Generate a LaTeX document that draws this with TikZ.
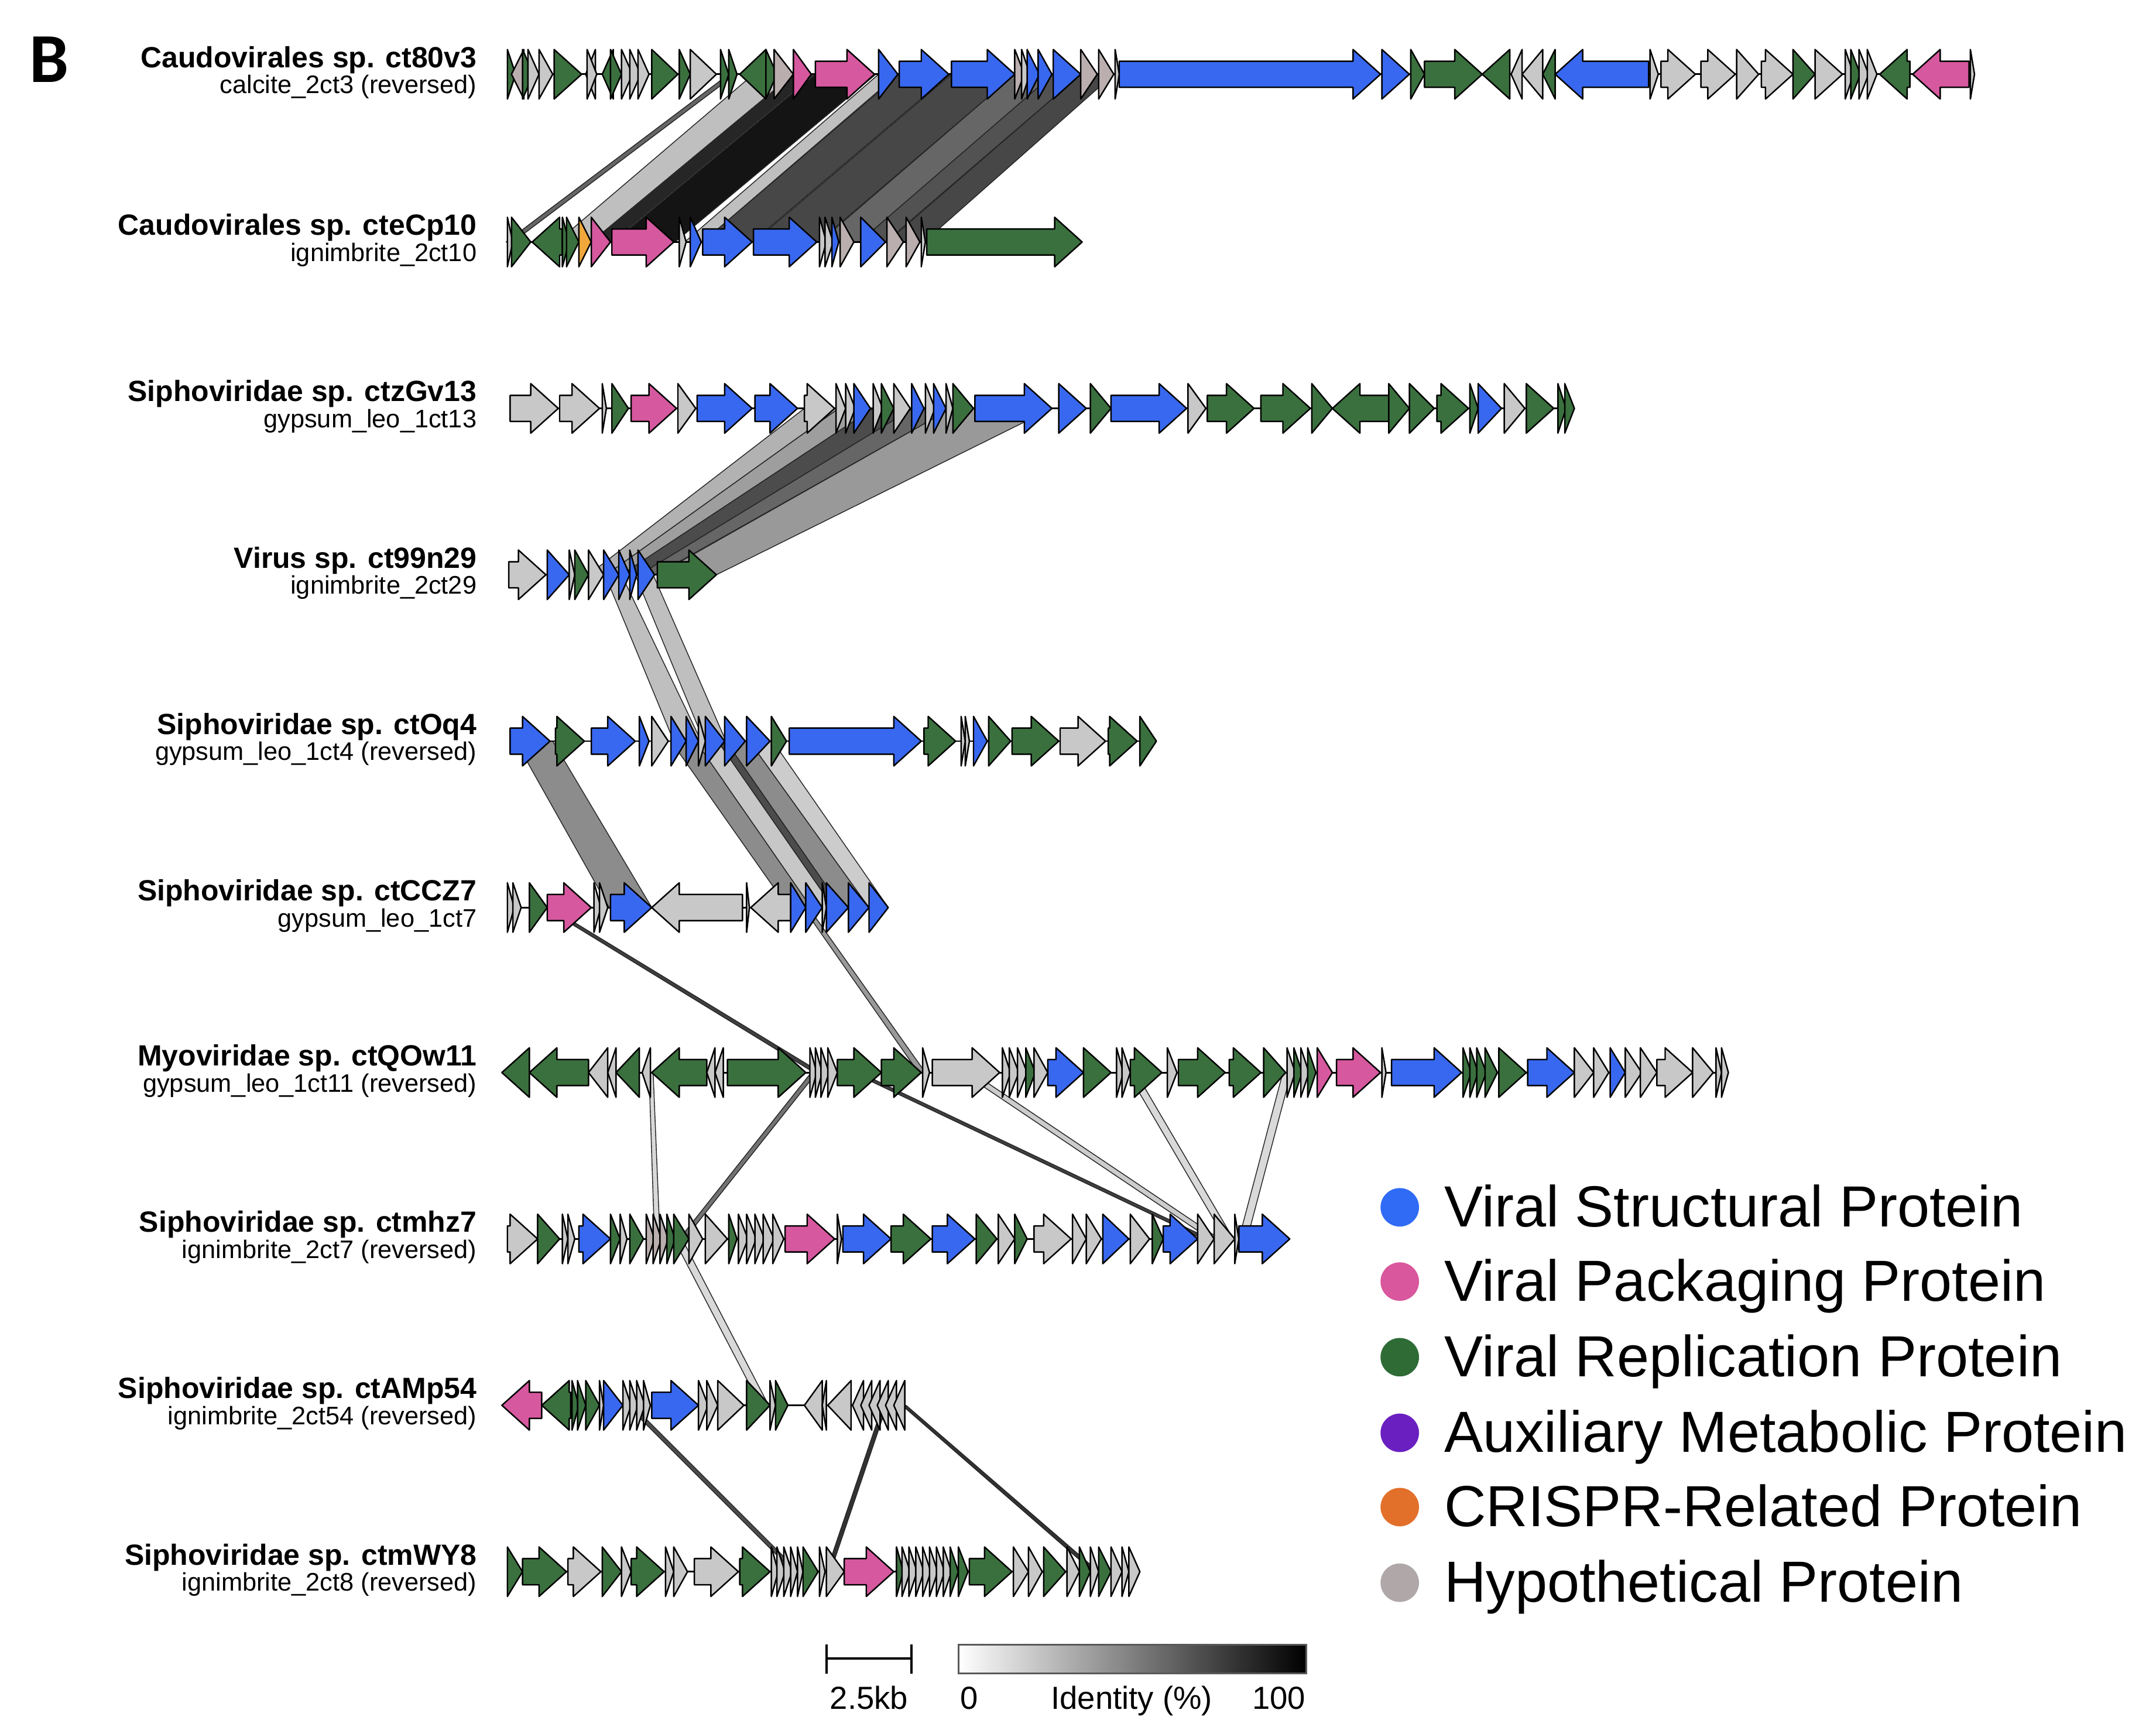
\documentclass[tikz,border=0pt]{standalone}
\usepackage{fontspec}
\setmainfont{Liberation Sans}
\newfontfamily\panelfont{Carlito}
\definecolor{bl}{RGB}{56,104,240}
\definecolor{pk}{RGB}{214,88,158}
\definecolor{gr}{RGB}{58,112,62}
\definecolor{hg}{RGB}{200,200,200}
\definecolor{hp}{RGB}{186,174,174}
\definecolor{og}{RGB}{240,168,60}
\definecolor{lbl}{RGB}{47,107,245}
\definecolor{lpk}{RGB}{217,87,156}
\definecolor{lgr}{RGB}{46,107,53}
\definecolor{lpu}{RGB}{106,31,192}
\definecolor{lor}{RGB}{226,112,43}
\definecolor{lhy}{RGB}{176,168,168}
\tikzset{
  gene/.style={draw=black, line width=0.6pt, line join=round},
  ribbon/.style={draw=black!85, line width=0.35pt, line join=round},
  baseln/.style={draw=black, line width=0.7pt},
  nm/.style={anchor=base east, inner sep=0pt, font=\fontsize{12.1}{14}\selectfont\bfseries},
  sb/.style={anchor=base east, inner sep=0pt, font=\fontsize{10.5}{12}\selectfont},
  legtext/.style={anchor=base west, inner sep=0pt, font=\fontsize{24}{28}\selectfont},
  legdot/.style={circle, inner sep=0pt, minimum size=0.56cm},
  scaletext/.style={anchor=base, inner sep=0pt, font=\fontsize{13.2}{15}\selectfont}
}
\newcommand{\gn}[4]{%
  \pgfmathsetmacro{\gnL}{(#2)-(#1)}%
  \pgfmathsetmacro{\gnH}{ifthenelse(abs(\gnL)<20,\gnL,20*sign(\gnL))}%
  \pgfmathsetmacro{\gnM}{(#2)-\gnH}%
  \filldraw[gene,fill=#4] (#1,#3-9.5) -- (\gnM,#3-9.5) -- (\gnM,#3-18) -- (#2,#3) -- (\gnM,#3+18) -- (\gnM,#3+9.5) -- (#1,#3+9.5) -- cycle;}
\newcommand{\track}[2]{\foreach \ga/\gb/\gc in {#2}{\gn{\ga}{\gb}{#1}{\gc}}}
\newcommand{\rb}[7]{\filldraw[ribbon,fill=#7] (#1,#3) -- (#2,#3) -- (#5,#6) -- (#4,#6) -- cycle;}
\begin{document}
\begin{tikzpicture}[x=0.02cm,y=-0.02cm]
\useasboundingbox (0,0) rectangle (1568,1261);
% ---------------- ribbons ----------------
% 1 -> 2
\rb{530}{535}{54}{368}{373}{176}{black!60}
\rb{548}{577}{54}{405}{430}{176}{black!25}
\rb{577}{592}{54}{430}{445}{176}{black!85}
\rb{593}{637}{54}{446}{491}{176}{black!92}
\rb{639}{653}{54}{498}{511}{176}{black!25}
\rb{654}{691}{54}{511}{547}{176}{black!72}
\rb{692}{738}{54}{548}{595}{176}{black!72}
\rb{738}{766}{54}{596}{625}{176}{black!60}
\rb{766}{786}{54}{625}{644}{176}{black!68}
\rb{786}{810}{54}{645}{672}{176}{black!72}
% 3 -> 4
\rb{585}{610}{297}{428}{441}{418}{black!30}
\rb{610}{635}{297}{441}{452}{418}{black!38}
\rb{635}{664}{297}{452}{465}{418}{black!70}
\rb{664}{692}{297}{465}{477}{418}{black!60}
\rb{692}{765}{297}{478}{521}{418}{black!40}
% 4 -> 5
\rb{440}{452}{418}{490}{510}{539}{black!25}
\rb{462}{475}{418}{512}{528}{539}{black!25}
% 5 -> 6
\rb{375}{402}{539}{443}{474}{660}{black!45}
\rb{488}{506}{539}{573}{590}{660}{black!45}
\rb{506}{522}{539}{590}{606}{660}{black!22}
\rb{522}{528}{539}{606}{612}{660}{black!70}
\rb{528}{545}{539}{612}{632}{660}{black!45}
\rb{545}{562}{539}{632}{646}{660}{black!20}
% 6 -> 7
\rb{396}{400}{660}{592}{597}{780}{black!75}
\rb{584}{588}{660}{668}{673}{780}{black!40}
% 7 -> 8
\rb{472}{475}{780}{476}{480}{901}{black!15}
\rb{590}{594}{780}{494}{498}{901}{black!55}
\rb{620}{625}{780}{875}{880}{901}{black!75}
\rb{700}{707}{780}{880}{887}{901}{black!20}
\rb{820}{826}{780}{891}{897}{901}{black!15}
\rb{933}{939}{780}{901}{907}{901}{black!15}
% 8 -> 9
\rb{490}{496}{901}{553}{559}{1022}{black!15}
% 9 -> 10
\rb{456}{460}{1022}{577}{581}{1143}{black!70}
\rb{642}{645}{1022}{601}{604}{1143}{black!80}
\rb{656}{659}{1022}{795}{799}{1143}{black!80}
% ---------------- baselines ----------------
\foreach \xa/\xb/\yy in {369/1436/54, 369/787/176, 371/1145/297, 370/521/418, 371/841/539, 369/646/660, 365/1257/780, 369/938/901, 365/658/1022, 369/829/1143}
  {\draw[baseln] (\xa,\yy) -- (\xb,\yy);}
% ---------------- genes ----------------
\track{54}{369/375/gr, 381/372/hp, 380/388/gr, 384/392/hg, 392/402/hg, 403/423/gr, 433/426/hg, 427/434/hg, 446/438/gr, 444/452/gr, 452/460/hg, 458/466/hg, 464/472/hg, 474/493/gr, 494/502/gr, 502/521/hg, 524/530/gr, 530/536/gr, 557/538/gr, 557/565/gr, 563/577/hp, 577/590/pk, 593/636/pk, 639/653/bl, 654/690/bl, 692/738/bl, 738/745/hp, 743/749/hg, 747/756/bl, 755/765/bl, 766/786/bl, 786/798/hp, 799/810/hp, 811/814/hg, 814/1004/bl, 1005/1025/bl, 1026/1036/gr, 1036/1078/gr, 1098/1078/gr, 1107/1099/hg, 1122/1107/hg, 1131/1122/gr, 1199/1131/bl, 1200/1206/hg, 1208/1233/hg, 1237/1262/hg, 1263/1279/hg, 1281/1304/hg, 1304/1320/gr, 1320/1340/hg, 1342/1348/hg, 1346/1353/gr, 1352/1359/hg, 1358/1365/hg, 1389/1367/gr, 1432/1391/pk, 1433/1436/hg}
\track{176}{369/373/hg, 372/386/gr, 409/387/gr, 409/414/gr, 412/421/gr, 421/430/og, 430/444/pk, 445/490/pk, 494/499/hg, 502/510/bl, 511/547/bl, 548/594/bl, 596/601/hg, 600/606/hg, 605/610/bl, 611/621/hp, 626/644/bl, 645/657/hp, 659/669/hp, 670/673/hg, 674/787/gr}
\track{297}{371/406/hg, 407/436/hg, 438/441/hg, 445/457/gr, 459/492/pk, 493/506/hg, 507/547/bl, 549/580/bl, 585/607/hg, 608/615/hg, 615/622/hg, 621/633/bl, 635/642/hg, 641/650/gr, 650/662/hg, 663/672/bl, 673/680/hg, 679/688/bl, 688/693/hg, 693/708/gr, 709/765/bl, 770/790/bl, 793/808/gr, 808/863/bl, 864/877/hg, 878/912/gr, 917/953/gr, 954/969/gr, 1010/969/gr, 1010/1025/gr, 1025/1043/gr, 1045/1068/gr, 1069/1075/gr, 1075/1092/bl, 1094/1109/hg, 1110/1130/gr, 1133/1139/gr, 1138/1145/gr}
\track{418}{370/397/hg, 398/414/bl, 414/418/hg, 418/428/gr, 428/439/hg, 439/450/bl, 450/458/bl, 458/463/bl, 464/476/bl, 478/521/gr}
\track{539}{371/400/bl, 404/425/gr, 430/462/bl, 465/472/bl, 474/486/hg, 488/499/bl, 499/508/bl, 508/513/hg, 513/527/bl, 527/542/bl, 543/560/bl, 561/572/gr, 574/670/bl, 672/695/gr, 699/702/hg, 702/705/hg, 708/718/bl, 719/735/gr, 736/770/gr, 771/804/hg, 806/827/gr, 829/841/gr}
\track{660}{369/374/hg, 373/379/hg, 385/398/gr, 398/430/pk, 432/437/hg, 436/442/hg, 444/474/bl, 540/474/hg, 543/545/hg, 575/546/hg, 575/586/bl, 586/598/bl, 598/601/hg, 601/617/bl, 617/632/bl, 632/646/bl}
\track{780}{385/365/gr, 428/385/gr, 442/428/hg, 448/442/hg, 465/448/gr, 473/467/hg, 514/474/gr, 520/514/hg, 526/520/hg, 529/586/gr, 589/594/hg, 593/598/hg, 597/603/hg, 602/609/hg, 609/641/gr, 641/670/gr, 671/676/hg, 678/727/hg, 729/735/hg, 734/741/hg, 740/747/hg, 746/753/gr, 752/762/hg, 762/788/bl, 788/808/gr, 812/817/hg, 816/822/hg, 822/845/gr, 849/856/hg, 857/891/gr, 894/917/gr, 919/935/gr, 936/942/hg, 941/947/gr, 946/952/hg, 951/957/gr, 958/969/pk, 972/1004/pk, 1005/1008/hg, 1012/1063/bl, 1064/1070/gr, 1069/1075/gr, 1074/1081/gr, 1080/1089/gr, 1090/1110/gr, 1111/1145/bl, 1145/1159/hg, 1159/1170/hg, 1171/1182/bl, 1182/1194/hg, 1193/1205/hg, 1205/1231/hg, 1231/1246/hg, 1248/1252/hg, 1252/1257/hg}
\track{901}{369/391/hg, 391/407/gr, 409/413/hg, 413/418/hg, 421/444/bl, 444/451/gr, 451/456/hg, 458/468/gr, 470/476/hp, 475/481/hp, 480/486/hp, 485/491/gr, 490/501/gr, 501/511/hg, 513/529/hg, 530/536/gr, 537/544/hg, 543/550/hg, 549/556/hg, 555/563/hg, 562/570/hg, 571/607/pk, 609/612/hg, 613/648/bl, 648/677/gr, 678/709/bl, 710/725/gr, 726/738/hg, 738/747/gr, 752/779/hg, 780/790/hg, 790/801/hg, 802/821/bl, 822/836/hg, 838/846/gr, 846/871/bl, 871/883/hg, 883/898/hg, 898/901/hg, 901/938/bl}
\track{1022}{394/365/pk, 415/394/gr, 416/421/gr, 420/426/gr, 426/436/gr, 436/439/hg, 439/453/bl, 453/459/hg, 458/464/hg, 463/469/hg, 468/473/hg, 474/508/bl, 508/515/hg, 514/522/hg, 522/541/hg, 543/560/gr, 560/564/hg, 564/573/gr, 598/585/hg, 601/598/hg, 619/602/hg, 628/620/hg, 634/626/hg, 640/632/hg, 646/638/hg, 652/644/hg, 658/650/hg}
\track{1143}{369/380/gr, 380/412/gr, 413/437/hg, 438/452/gr, 452/459/hg, 459/483/gr, 484/490/hg, 490/500/hg, 505/537/hg, 538/560/gr, 561/566/hg, 565/571/hg, 570/576/hg, 575/580/hg, 580/584/hg, 584/595/gr, 596/600/hg, 601/614/hg, 614/650/pk, 652/657/gr, 656/662/hg, 661/667/hg, 666/672/hg, 671/677/hg, 676/682/hg, 681/687/hg, 686/692/hg, 691/697/gr, 697/704/gr, 705/736/gr, 737/748/hg, 748/758/hg, 759/775/gr, 776/785/hg, 785/793/gr, 793/799/hg, 799/808/gr, 808/816/hg, 816/821/hg, 821/829/hg}
% ---------------- labels ----------------
\foreach \i/\yy/\nmt/\sbt in {
 1/54/{Caudovirales sp. ct80v3}/{calcite\_2ct3 (reversed)},
 2/176/{Caudovirales sp. cteCp10}/{ignimbrite\_2ct10},
 3/297/{Siphoviridae sp. ctzGv13}/{gypsum\_leo\_1ct13},
 4/418/{Virus sp. ct99n29}/{ignimbrite\_2ct29},
 5/539/{Siphoviridae sp. ctOq4}/{gypsum\_leo\_1ct4 (reversed)},
 6/660/{Siphoviridae sp. ctCCZ7}/{gypsum\_leo\_1ct7},
 7/780/{Myoviridae sp. ctQOw11}/{gypsum\_leo\_1ct11 (reversed)},
 8/901/{Siphoviridae sp. ctmhz7}/{ignimbrite\_2ct7 (reversed)},
 9/1022/{Siphoviridae sp. ctAMp54}/{ignimbrite\_2ct54 (reversed)},
 10/1143/{Siphoviridae sp. ctmWY8}/{ignimbrite\_2ct8 (reversed)}}
{
 \node[nm] (name\i) at (347,\yy-5) {\nmt};
 \node[sb] (sub\i) at (347,\yy+14) {\sbt};
}
\node[anchor=base west, inner sep=0pt, font=\panelfont\bfseries\fontsize{29}{33}\selectfont] (panel) at (21,60) {B};
% ---------------- legend ----------------
\foreach \i/\yy/\cl/\tx in {1/878/lbl/Viral Structural Protein, 2/932/lpk/Viral Packaging Protein, 3/987/lgr/Viral Replication Protein, 4/1042/lpu/Auxiliary Metabolic Protein, 5/1096/lor/CRISPR-Related Protein, 6/1151/lhy/Hypothetical Protein}
{
 \node[legdot, fill=\cl] (ld\i) at (1018,\yy) {};
 \node[legtext] (lt\i) at (1050,\yy+14) {\tx};
}
% ---------------- scale bar ----------------
\coordinate (sbL) at (601,1206);
\coordinate (sbR) at (663,1206);
\coordinate (sbLt) at (601,1196);
\coordinate (sbLb) at (601,1217);
\coordinate (sbRt) at (663,1196);
\coordinate (sbRb) at (663,1217);
\draw[line width=0.9pt] (sbL) -- (sbR);
\draw[line width=0.9pt] (sbLt) -- (sbLb);
\draw[line width=0.9pt] (sbRt) -- (sbRb);
\node[scaletext] (kb) at (632,1243) {2.5kb};
\shade[left color=white, right color=black] (697,1196) rectangle (950,1217);
\draw[black!65, line width=0.8pt] (697,1196) rectangle (950,1217);
\node[scaletext] (id0) at (705,1243) {0};
\node[scaletext] (idl) at (823,1243) {Identity (\%)};
\node[scaletext] (id100) at (930,1243) {100};
\end{tikzpicture}
\end{document}
